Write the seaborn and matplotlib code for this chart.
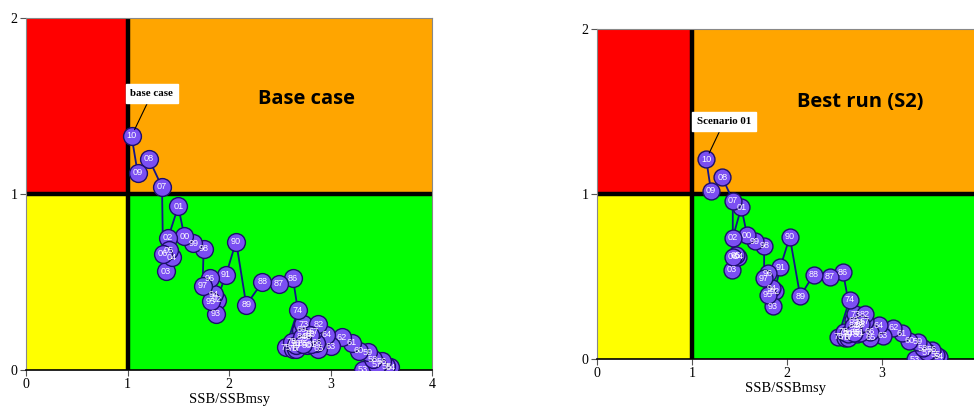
import matplotlib
matplotlib.use("Agg")
import matplotlib.pyplot as plt
import seaborn as sns
import pandas as pd

# ---- data ----
years = ["53", "54", "55", "56", "57", "58", "59", "60", "61", "62", "63", "64",
         "65", "66", "67", "68", "69", "70", "71", "72", "73", "74", "75", "76",
         "77", "78", "79", "80", "81", "82", "83", "84", "85", "86", "87", "88",
         "89", "90", "91", "92", "93", "94", "95", "96", "97", "98", "99", "00",
         "01", "02", "03", "04", "05", "06", "07", "08", "09", "10"]

base_x = [3.32, 3.59, 3.55, 3.51, 3.46, 3.42, 3.37, 3.28, 3.21, 3.11, 3.00, 2.96,
          2.88, 2.86, 2.83, 2.76, 2.71, 2.66, 2.78, 2.74, 2.73, 2.68, 2.56, 2.63,
          2.66, 2.62, 2.66, 2.77, 2.81, 2.88, 2.80, 2.72, 2.73, 2.63, 2.49, 2.33,
          2.17, 2.07, 1.97, 1.88, 1.87, 1.85, 1.82, 1.81, 1.74, 1.75, 1.65, 1.56,
          1.50, 1.40, 1.38, 1.44, 1.41, 1.35, 1.34, 1.21, 1.10, 1.04]
base_y = [0.00, 0.015, 0.02, 0.05, 0.03, 0.06, 0.10, 0.11, 0.155, 0.185, 0.135, 0.20,
          0.12, 0.155, 0.22, 0.19, 0.23, 0.15, 0.21, 0.17, 0.26, 0.34, 0.13, 0.12,
          0.12, 0.16, 0.14, 0.14, 0.145, 0.26, 0.20, 0.19, 0.15, 0.52, 0.49, 0.50,
          0.37, 0.73, 0.54, 0.40, 0.32, 0.43, 0.39, 0.52, 0.48, 0.69, 0.72, 0.76,
          0.93, 0.75, 0.56, 0.64, 0.68, 0.66, 1.04, 1.20, 1.12, 1.33]

s2_x = [3.35, 3.60, 3.57, 3.53, 3.47, 3.43, 3.38, 3.29, 3.21, 3.12, 3.01, 2.97,
        2.88, 2.87, 2.82, 2.75, 2.70, 2.64, 2.77, 2.72, 2.72, 2.66, 2.54, 2.61,
        2.64, 2.60, 2.64, 2.74, 2.77, 2.82, 2.78, 2.70, 2.71, 2.59, 2.45, 2.28,
        2.14, 2.03, 1.93, 1.87, 1.85, 1.84, 1.80, 1.80, 1.76, 1.76, 1.66, 1.58,
        1.52, 1.43, 1.42, 1.49, 1.46, 1.43, 1.43, 1.32, 1.20, 1.15]
s2_y = [0.00, 0.015, 0.025, 0.055, 0.04, 0.065, 0.105, 0.11, 0.155, 0.19, 0.14, 0.205,
        0.13, 0.165, 0.23, 0.20, 0.235, 0.155, 0.22, 0.18, 0.27, 0.36, 0.135, 0.13,
        0.13, 0.165, 0.15, 0.15, 0.16, 0.27, 0.21, 0.20, 0.16, 0.525, 0.50, 0.51,
        0.38, 0.74, 0.555, 0.41, 0.32, 0.43, 0.39, 0.52, 0.49, 0.685, 0.715, 0.75,
        0.92, 0.735, 0.54, 0.62, 0.63, 0.62, 0.96, 1.10, 1.02, 1.21]

panel_titles = ["Base case", "Best run (S2)"]
callouts = ["base case", "Scenario 01"]
x_ticks = [0, 1, 2, 3, 4]
y_ticks = [0, 1, 2]

SERIF = ["Liberation Serif", "DejaVu Serif"]

fig = plt.figure(figsize=(9.74, 4.07), dpi=100)
ax1 = fig.add_axes([26 / 974, 1 - 370 / 407, 406 / 974, 352 / 407])
ax2 = fig.add_axes([597 / 974, 1 - 359 / 407, 377 / 974, 330 / 407])


def draw(ax, xs, ys, title, callout, xmax, title_xy, box_xy, msize, show_right):
    ax.axvspan(0, 1, ymin=0.5, ymax=1.0, color="#FF0000", lw=0, zorder=0)
    ax.axvspan(1, 10, ymin=0.5, ymax=1.0, color="#FFA500", lw=0, zorder=0)
    ax.axvspan(0, 1, ymin=0.0, ymax=0.5, color="#FFFF00", lw=0, zorder=0)
    ax.axvspan(1, 10, ymin=0.0, ymax=0.5, color="#00FF00", lw=0, zorder=0)
    ax.axvline(1, color="black", lw=3.2, zorder=1)
    ax.axhline(1, color="black", lw=3.2, zorder=1)

    df = pd.DataFrame({"x": xs, "y": ys, "yr": years})
    sns.lineplot(data=df, x="x", y="y", sort=False, estimator=None, ax=ax,
                 color="#14148a", lw=1.3, zorder=2)
    sns.scatterplot(data=df, x="x", y="y", ax=ax, s=msize, color="#7B4FF2",
                    edgecolor="#1c0f6b", linewidth=1.0, zorder=3, legend=False)
    for x, y, t in zip(xs, ys, years):
        ax.text(x, y, t, color="white", fontsize=6.6, ha="center", va="center",
                family=["Liberation Sans", "DejaVu Sans"], zorder=4)

    ax.set_xlim(0, xmax)
    ax.set_ylim(0, 2)
    ax.set_xticks([t for t in x_ticks if t <= xmax])
    ax.set_yticks(y_ticks)
    ax.tick_params(axis="both", labelsize=10, length=4, width=0.8, color="#555555",
                   pad=2)
    for lab in ax.get_xticklabels() + ax.get_yticklabels():
        lab.set_family(SERIF)
    ax.set_xlabel("SSB/SSBmsy", fontsize=10.5, family=SERIF, labelpad=1)
    ax.set_ylabel("")
    for side in ["top", "left", "right"]:
        ax.spines[side].set_color("#888888")
        ax.spines[side].set_linewidth(0.8)
    ax.spines["bottom"].set_color("black")
    ax.spines["bottom"].set_linewidth(1.2)
    ax.spines["right"].set_visible(show_right)

    ax.text(title_xy[0], title_xy[1], title, fontsize=14.5, fontweight="bold",
            ha="center", va="center", family=["Open Sans", "DejaVu Sans"], zorder=5)
    ax.annotate(callout, xy=(xs[-1], ys[-1]), xytext=box_xy, fontsize=7.8,
                fontweight="bold", family=SERIF, ha="center", va="center",
                bbox=dict(boxstyle="square,pad=0.45", fc="white", ec="white"),
                arrowprops=dict(arrowstyle="-", color="black", lw=0.8,
                                shrinkA=0, shrinkB=5), zorder=6)


draw(ax1, base_x, base_y, panel_titles[0], callouts[0], 4.0,
     (2.76, 1.54), (1.24, 1.57), 165, True)
draw(ax2, s2_x, s2_y, panel_titles[1], callouts[1], 3.97,
     (2.77, 1.56), (1.34, 1.44), 148, False)

fig.savefig("out.png", dpi=100)
